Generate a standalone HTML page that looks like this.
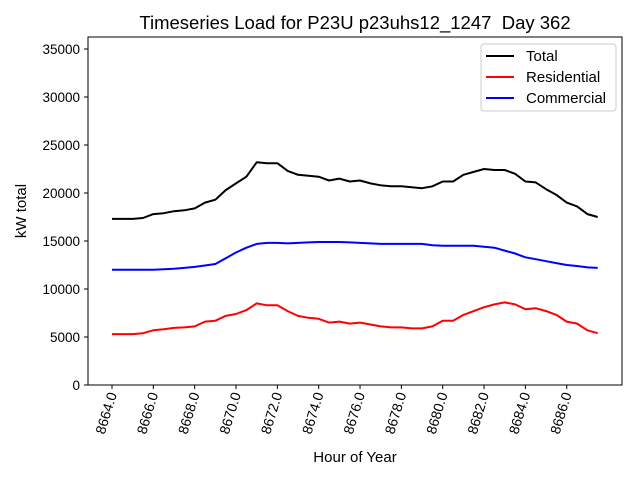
<!DOCTYPE html>
<html><head><meta charset="utf-8"><style>
body{margin:0;background:#fff;}
svg{display:block;font-family:"Liberation Sans","DejaVu Sans",sans-serif;}
text{white-space:pre;}
</style></head><body>
<svg id="chart" width="640" height="480">
<rect width="640" height="480" fill="#fff"/>
<text x="355" y="29" font-size="18.5" text-anchor="middle" xml:space="preserve">Timeseries Load for P23U p23uhs12_1247  Day 362</text>
<g id="grid"></g>
<g id="series"></g>
<rect x="88" y="37" width="534" height="348" fill="none" stroke="#000" stroke-width="1"/>
<text x="355" y="462" font-size="15" text-anchor="middle">Hour of Year</text>
<text transform="translate(26,211) rotate(-90)" font-size="15" text-anchor="middle">kW total</text>
<g>
<rect x="481" y="44" width="135" height="67" rx="3" fill="#fff" stroke="#ccc"/>
<line x1="486" y1="56" x2="514" y2="56" stroke="#000" stroke-width="2"/>
<text x="526" y="61" font-size="15">Total</text>
<line x1="486" y1="77" x2="514" y2="77" stroke="#f00" stroke-width="2"/>
<text x="526" y="82" font-size="15">Residential</text>
<line x1="486" y1="98" x2="514" y2="98" stroke="#00f" stroke-width="2"/>
<text x="526" y="103" font-size="15">Commercial</text>
</g>
</svg>
<script>
const startHour = 8664;
const stepHours = 0.5;
const total = [17300,17300,17300,17400,17800,17900,18100,18200,18400,19000,19300,20300,21000,21700,23200,23100,23100,22300,21900,21800,21700,21300,21500,21200,21300,21000,20800,20700,20700,20600,20500,20700,21200,21200,21900,22200,22500,22400,22400,22000,21200,21100,20400,19800,19000,18600,17800,17500];
const residential = [5300,5300,5300,5400,5700,5800,5950,6000,6100,6600,6700,7200,7400,7800,8500,8300,8300,7700,7200,7000,6900,6500,6600,6400,6500,6300,6100,6000,6000,5900,5900,6100,6700,6700,7300,7700,8100,8400,8600,8400,7900,8000,7700,7300,6600,6400,5700,5400];
const commercial = [12000,12000,12000,12000,12000,12050,12100,12200,12300,12450,12600,13200,13800,14300,14700,14800,14800,14750,14800,14850,14900,14900,14900,14850,14800,14750,14700,14700,14700,14700,14700,14550,14500,14500,14500,14500,14400,14300,14000,13700,13300,13100,12900,12700,12500,12400,12250,12200];
const yTicks = [0,5000,10000,15000,20000,25000,30000,35000];
const xTicks = [8664,8666,8668,8670,8672,8674,8676,8678,8680,8682,8684,8686];

const NS = "http://www.w3.org/2000/svg";
const X = h => 112 + (h - 8664) * 20.67;
const Y = v => 385 - v * 0.0096;
const grid = document.getElementById('grid');
const ser = document.getElementById('series');
function mk(tag, attrs, parent){const e=document.createElementNS(NS,tag);for(const k in attrs)e.setAttribute(k,attrs[k]);parent.appendChild(e);return e;}

yTicks.forEach(v=>{
  const l = mk('line',{x1:84,x2:88,y1:Y(v),y2:Y(v),stroke:'#000'},grid);
  
  
  const t = mk('text',{x:80,y:Y(v)+5,'font-size':13.5,'text-anchor':'end'},grid);
  t.textContent = v;
  
  
});
xTicks.forEach(h=>{
  const x = X(h);
  const l = mk('line',{x1:x,x2:x,y1:385,y2:389,stroke:'#000'},grid);
  
  
  const t = mk('text',{transform:`translate(${x+5},394) rotate(-73)`,'font-size':14,'text-anchor':'end'},grid);
  t.textContent = h.toFixed(1);
  
  
});
function line(arr,color,name){
  const pts = arr.map((v,i)=>X(startHour+i*stepHours).toFixed(1)+','+Y(v).toFixed(1)).join(' ');
  const p = mk('polyline',{points:pts,fill:'none',stroke:color,'stroke-width':2,'stroke-linejoin':'round'},ser);
  
  
}
line(total,'#000','total-line');
line(residential,'#f00','residential-line');
line(commercial,'#00f','commercial-line');
</script>
</body></html>
